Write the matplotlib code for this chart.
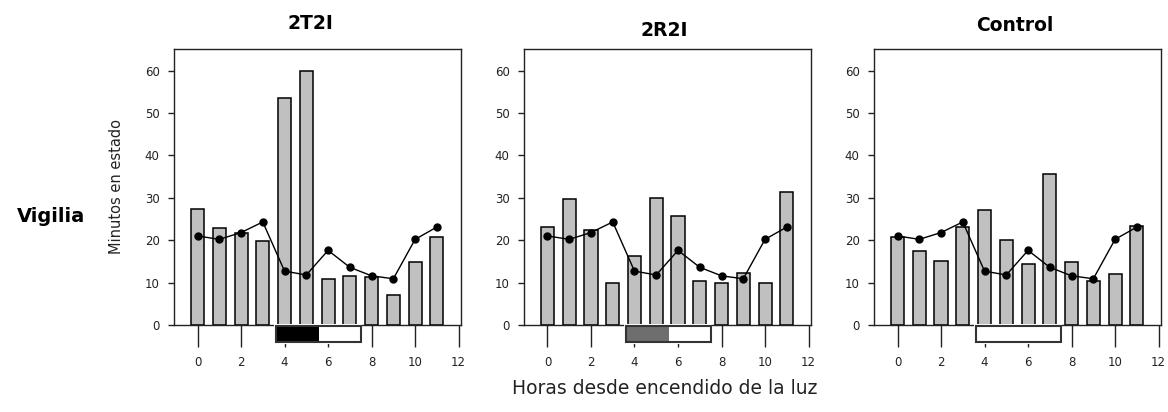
import matplotlib.pyplot as plt
from matplotlib.patches import Rectangle
from matplotlib.transforms import blended_transform_factory

hours = list(range(12))
groups = ['2T2I', '2R2I', 'Control']

# hourly wake minutes per group (bars)
wake_2t2i = [27.3, 22.8, 21.8, 19.7, 53.5, 60.0, 10.8, 11.5, 11.4, 7.0, 14.8, 20.7]
wake_2r2i = [23.0, 29.6, 22.3, 10.0, 16.3, 30.0, 25.6, 10.3, 9.8, 12.3, 10.0, 31.3]
wake_control = [20.8, 17.5, 15.1, 23.0, 27.1, 20.1, 14.5, 35.5, 14.9, 10.3, 12.0, 23.3]
# baseline day, same line on every panel
wake_baseline = [21.0, 20.2, 21.8, 24.3, 12.7, 11.8, 17.6, 13.6, 11.6, 10.9, 20.2, 23.1]

# stimulation box under the x axis: start, switch, end (hours)
stim_edges = [3.6, 5.6, 7.5]
stim_colors = ['black', '#6e6e6e', 'white']

x_ticks = [0, 2, 4, 6, 8, 10, 12]
y_ticks = [0, 10, 20, 30, 40, 50, 60]

plt.rcParams['font.family'] = 'DejaVu Sans'

fig = plt.figure(figsize=(11.68, 4.12), dpi=100)
lefts = [0.149, 0.4486, 0.7483]
title_x = [310 / 1168, 664 / 1168, 1015 / 1168]
title_y = [0.944, 0.927, 0.937]

for i, values in enumerate([wake_2t2i, wake_2r2i, wake_control]):
    ax = fig.add_axes([lefts[i], 0.2112, 0.2457, 0.6699])
    ax.bar(hours, values, width=0.6, color='#c0c0c0', edgecolor='black',
           linewidth=1.1, zorder=2)
    ax.plot(hours, wake_baseline, '-o', color='black', linewidth=1,
            markersize=5, zorder=3)

    ax.set_xlim(-1.08, 12.11)
    ax.set_ylim(0, 65.1)
    ax.set_xticks(x_ticks)
    ax.set_yticks(y_ticks)
    ax.tick_params(axis='x', length=16, width=1, pad=6, labelsize=8.5,
                   color='#222222', labelcolor='#222222')
    ax.tick_params(axis='y', length=4.3, width=1, pad=6, labelsize=8.5,
                   color='#222222', labelcolor='#222222')
    for spine in ax.spines.values():
        spine.set_linewidth(1)
        spine.set_color('#222222')

    # stimulation box, drawn over the axis line and ticks
    trans = blended_transform_factory(ax.transData, ax.transAxes)
    start, mid, end = stim_edges
    ax.add_patch(Rectangle((start - 0.07, -0.07), end - start + 0.14, 0.073,
                           facecolor='white', edgecolor='none', transform=trans,
                           clip_on=False, zorder=5))
    ax.add_patch(Rectangle((start, -0.0605), mid - start, 0.057,
                           facecolor=stim_colors[i], edgecolor='none',
                           transform=trans, clip_on=False, zorder=6))
    ax.add_patch(Rectangle((start, -0.0605), end - start, 0.057,
                           facecolor='none', edgecolor='#333333', linewidth=1.5,
                           transform=trans, clip_on=False, zorder=7))

    fig.text(title_x[i], title_y[i], groups[i], ha='center', va='center',
             fontsize=13.5, fontweight='bold')

fig.text(51 / 1168, 1 - 217 / 412, 'Vigilia', ha='center', va='center',
         fontsize=14, fontweight='bold')
fig.text(116.5 / 1168, 1 - 187 / 412, 'Minutos en estado', ha='center',
         va='center', rotation=90, fontsize=10.5, color='#222222')
fig.text(665 / 1168, 1 - 388 / 412, 'Horas desde encendido de la luz',
         ha='center', va='center', fontsize=13.5, color='#222222')

fig.savefig('out.png', dpi=100)
